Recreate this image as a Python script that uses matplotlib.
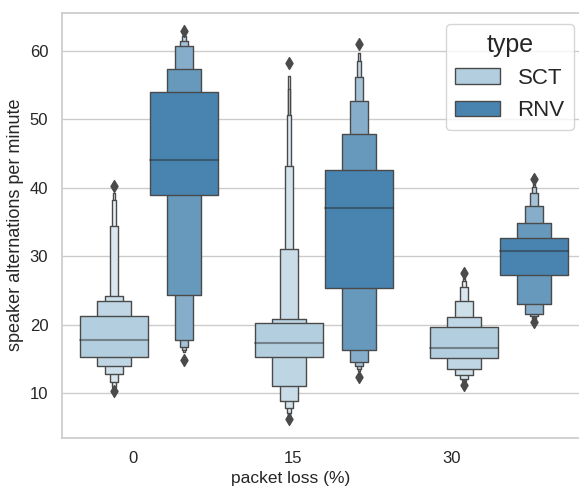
import numpy as np
import matplotlib.pyplot as plt
import matplotlib.colors as mcolors
import seaborn as sns
import colorsys
from matplotlib.patches import Rectangle, Patch
from matplotlib.collections import PatchCollection

sns.set_theme(style="whitegrid")
plt.rcParams['font.family'] = ['Liberation Sans', 'DejaVu Sans']

loss_labels = ["0", "15", "30"]
types = ["SCT", "RNV"]

# letter values per packet loss group, innermost box first
sct_lower = [[15.3, 14.0, 12.8, 11.6, 10.95, 10.7],
             [15.3, 11.05, 8.8, 7.8, 7.1, 6.7, 6.5],
             [15.1, 13.5, 12.7, 12.1, 11.8, 11.6]]
sct_upper = [[21.3, 23.4, 24.2, 34.4, 38.2, 39.3],
             [20.2, 20.9, 31.0, 43.2, 50.6, 54.4, 56.3],
             [19.6, 21.1, 23.5, 25.5, 26.4, 26.8]]
sct_median = [17.8, 17.3, 16.55]
sct_fliers = [[40.2, 10.3], [58.2, 6.2], [27.5, 11.2]]

rnv_lower = [[38.9, 24.3, 17.8, 16.8, 16.3, 16.0],
             [25.4, 16.3, 14.6, 14.0, 13.5, 13.2],
             [27.3, 23.0, 21.6, 21.2, 20.9, 20.7]]
rnv_upper = [[54.0, 57.4, 60.7, 61.4, 62.2, 62.5],
             [42.6, 47.8, 52.7, 56.2, 58.5, 59.7],
             [32.6, 34.8, 37.4, 39.2, 40.15, 40.5]]
rnv_median = [44.1, 37.1, 30.8]
rnv_fliers = [[62.9, 14.8], [61.0, 12.4], [41.2, 20.4]]

lower = [sct_lower, rnv_lower]
upper = [sct_upper, rnv_upper]
medians = [sct_median, rnv_median]
fliers = [sct_fliers, rnv_fliers]

palette = [sns.desaturate(c, 0.75) for c in sns.color_palette("Blues", 2)]
lum = min(colorsys.rgb_to_hls(*c)[1] for c in palette) * 0.6
gray = mcolors.rgb2hex((lum, lum, lum))

fig = plt.figure(figsize=(5.79, 4.87), dpi=100)
ax = fig.add_axes([61.5 / 579, 49.5 / 487, 525 / 579, 425 / 487])

width = 0.8 / 2 * 0.98
for j in range(len(types)):
    color = mcolors.rgb2hex(palette[j])
    cmap0 = mcolors.LinearSegmentedColormap.from_list('m0', [color, (1, 1, 1)])
    cmap = mcolors.LinearSegmentedColormap.from_list('m1', [color, cmap0(.85)])
    for i in range(len(loss_labels)):
        x = i + (j - 0.5) * 0.4
        lo = lower[j][i]
        hi = upper[j][i]
        n = len(lo)
        boxes = []
        for m in range(n - 1, -1, -1):
            w = width * 0.5 ** m
            boxes.append(Rectangle((x - w / 2, lo[m]), w, hi[m] - lo[m]))
        coll = PatchCollection(boxes, cmap=cmap, edgecolor=gray, linewidth=1)
        coll.set_array(np.linspace(1, 0, n))
        ax.add_collection(coll)
        ax.plot([x - width / 2, x + width / 2], [medians[j][i]] * 2, c='.15', alpha=.45, lw=1.5)
        ax.scatter([x] * len(fliers[j][i]), fliers[j][i], marker='d', c=gray, s=36, zorder=3)

ax.set_xlim(-0.5, 2.5)
ax.set_ylim(3.53, 65.58)
ax.set_yticks([10, 20, 30, 40, 50, 60])
ax.set_xticks([-0.091, 0.823, 1.731])
ax.set_xticklabels(loss_labels)
ax.tick_params(labelsize=12)
ax.grid(False, axis='x')
ax.set_xlabel("packet loss (%)", fontsize=12.5)
ax.xaxis.label.set_x((291 - 61.5) / 525)
ax.set_ylabel("speaker alternations per minute", fontsize=13)

handles = [Patch(facecolor=palette[j], edgecolor=gray, linewidth=1) for j in range(len(types))]
ax.legend(handles, types, title="type", fontsize=16, title_fontsize=18,
          loc='upper right', bbox_to_anchor=(573.5 / 579, 1 - 24 / 487),
          bbox_transform=fig.transFigure, borderaxespad=0)

fig.savefig("out.png", dpi=100)
